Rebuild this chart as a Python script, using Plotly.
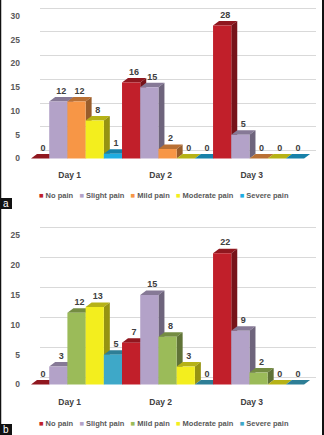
import plotly.graph_objects as go

# ---------------- data ----------------
days = ["Day 1", "Day 2", "Day 3"]
series_names = ["No pain", "Slight pain", "Mild pain", "Moderate pain", "Severe pain"]

# panel a
a_no_pain = [0, 16, 28]
a_slight_pain = [12, 15, 5]
a_mild_pain = [12, 2, 0]
a_moderate_pain = [8, 0, 0]
a_severe_pain = [1, 0, 0]

# panel b
b_no_pain = [0, 7, 22]
b_slight_pain = [3, 15, 9]
b_mild_pain = [12, 8, 2]
b_moderate_pain = [13, 3, 0]
b_severe_pain = [5, 0, 0]

y_ticks_a = [0, 5, 10, 15, 20, 25, 30]
y_ticks_b = [0, 5, 10, 15, 20, 25]

panel_a = [a_no_pain, a_slight_pain, a_mild_pain, a_moderate_pain, a_severe_pain]
panel_b = [b_no_pain, b_slight_pain, b_mild_pain, b_moderate_pain, b_severe_pain]

colors_a = ["#C11F2A", "#B3A2C8", "#F79646", "#F3EE1E", "#1FADE2"]
colors_b = ["#C11F2A", "#B3A2C8", "#9BBB59", "#F3EE1E", "#3EA8C8"]

W, H = 324, 435
FONT = "Liberation Sans"


def shade(hexcol, f):
    h = hexcol.lstrip("#")
    r, g, b = int(h[0:2], 16), int(h[2:4], 16), int(h[4:6], 16)
    return "rgb(%d,%d,%d)" % (int(r * f), int(g * f), int(b * f))


fig = go.Figure()

X_DOM_PX = (31, 315)
X_RANGE = (-0.5, 2.62)
BAR_W = 0.2
DX = 0.066


def add_panel(k, values, colors, dom_px, zero_px, ppu, grid_off_px, ticks, legend_y_px):
    gx, gy = ("x", "y") if k == 0 else ("x3", "y3")
    bx, by = ("x2", "y2") if k == 0 else ("x4", "y4")
    top_px, bot_px = dom_px
    y_hi = (zero_px - top_px) / ppu
    y_lo = -(bot_px - zero_px) / ppu
    dom = [1 - bot_px / H, 1 - top_px / H]
    off = grid_off_px / ppu
    dy = 4.5 / ppu
    lab = 5.5 / ppu

    fig.add_trace(go.Scatter(x=[None], y=[None], xaxis=gx, yaxis=gy, showlegend=False,
                             hoverinfo="skip"))
    lx, ly, lt = [], [], []
    for i in range(len(days)):
        for j, vals in enumerate(values):
            v = vals[i]
            c = colors[j]
            cx = i + (j - 2) * BAR_W
            l, r = cx - BAR_W / 2, cx + BAR_W / 2
            fig.add_trace(go.Scatter(
                x=[l, l + DX, r + DX, r, l], y=[v, v + dy, v + dy, v, v],
                mode="lines", fill="toself", fillcolor=shade(c, 0.75),
                line=dict(width=0), xaxis=bx, yaxis=by, showlegend=False, hoverinfo="skip"))
            if v > 0:
                fig.add_trace(go.Scatter(
                    x=[r, r + DX, r + DX, r, r], y=[0, dy, v + dy, v, 0],
                    mode="lines", fill="toself", fillcolor=shade(c, 0.62),
                    line=dict(width=0), xaxis=bx, yaxis=by, showlegend=False, hoverinfo="skip"))
                fig.add_trace(go.Scatter(
                    x=[l, r, r, l, l], y=[0, 0, v, v, 0],
                    mode="lines", fill="toself", fillcolor=c,
                    line=dict(width=0), xaxis=bx, yaxis=by, showlegend=False, hoverinfo="skip"))
            lx.append(cx + DX / 2)
            ly.append(v + dy + lab)
            lt.append(str(v))
    fig.add_trace(go.Scatter(
        x=lx, y=ly, text=lt, mode="text", textposition="middle center",
        textfont=dict(family=FONT, size=9, color="#404040", weight="bold"),
        xaxis=bx, yaxis=by, showlegend=False, hoverinfo="skip", cliponaxis=False))

    gxa = "xaxis" if k == 0 else "xaxis3"
    gya = "yaxis" if k == 0 else "yaxis3"
    bxa = "xaxis2" if k == 0 else "xaxis4"
    bya = "yaxis2" if k == 0 else "yaxis4"
    fig.update_layout(**{
        gxa: dict(domain=[40 / W, 316 / W], range=[0, 1], visible=False, anchor=gy),
        gya: dict(domain=dom, range=[y_lo - off, y_hi - off], tickvals=ticks,
                  showticklabels=False, showgrid=True, gridcolor="#D9D9D9", gridwidth=1,
                  zeroline=False, showline=False, anchor=gx),
        bxa: dict(domain=[X_DOM_PX[0] / W, X_DOM_PX[1] / W], range=list(X_RANGE),
                  tickvals=[i - 0.075 for i in range(len(days))], ticktext=days,
                  showgrid=False, zeroline=False, showline=False, ticks="",
                  ticklabelstandoff=2,
                  tickfont=dict(family=FONT, size=8.5, color="#404040", weight="bold"),
                  anchor=by),
        bya: dict(domain=dom, range=[y_lo, y_hi], tickvals=ticks,
                  showgrid=False, zeroline=False, showline=False, ticks="",
                  ticklabelstandoff=10,
                  tickfont=dict(family=FONT, size=8.5, color="#595959", weight="bold"),
                  anchor=bx),
    })

    items = []
    for name, c in zip(series_names, colors):
        items.append('<span style="color:%s">\u25A0</span><span style="color:#595959"> %s</span>'
                     % (c, name))
    fig.add_annotation(
        x=164 / W, y=1 - legend_y_px / H, xref="paper", yref="paper",
        text=("\u00a0\u00a0\u00a0").join(items), showarrow=False,
        font=dict(family=FONT, size=7.5, color="#595959", weight="bold"),
        xanchor="center", yanchor="middle")


add_panel(0, panel_a, colors_a, (0, 166), 158.5, 4.75, 8.0, y_ticks_a, 195)
add_panel(1, panel_b, colors_b, (225, 393), 384.5, 5.97, 7.5, y_ticks_b, 423)

# panel tags and side borders
for lbl, y0, y1 in [("a", 198, 209), ("b", 424, 435)]:
    fig.add_shape(type="rect", xref="paper", yref="paper", x0=0, x1=12 / W,
                  y0=1 - y1 / H, y1=1 - y0 / H, fillcolor="#111111", line=dict(width=0))
    fig.add_annotation(x=6 / W, y=1 - (y0 + y1) / 2 / H, xref="paper", yref="paper",
                       text=lbl, showarrow=False, xanchor="center", yanchor="middle",
                       font=dict(family=FONT, size=10, color="white"),
                       borderpad=0)
fig.add_shape(type="line", xref="paper", yref="paper", x0=0.5 / W, x1=0.5 / W, y0=0, y1=1,
              line=dict(color="#111111", width=1.5))
fig.add_shape(type="line", xref="paper", yref="paper", x0=323 / W, x1=323 / W, y0=0, y1=1,
              line=dict(color="#111111", width=2))

fig.update_layout(
    width=W, height=H, margin=dict(l=0, r=0, t=0, b=0),
    paper_bgcolor="white", plot_bgcolor="rgba(0,0,0,0)",
    showlegend=False, hovermode=False,
    font=dict(family=FONT),
)

fig.write_html("out.html", config={"displayModeBar": False},
               post_script="document.body.style.margin='0';document.body.style.overflow='hidden';")
